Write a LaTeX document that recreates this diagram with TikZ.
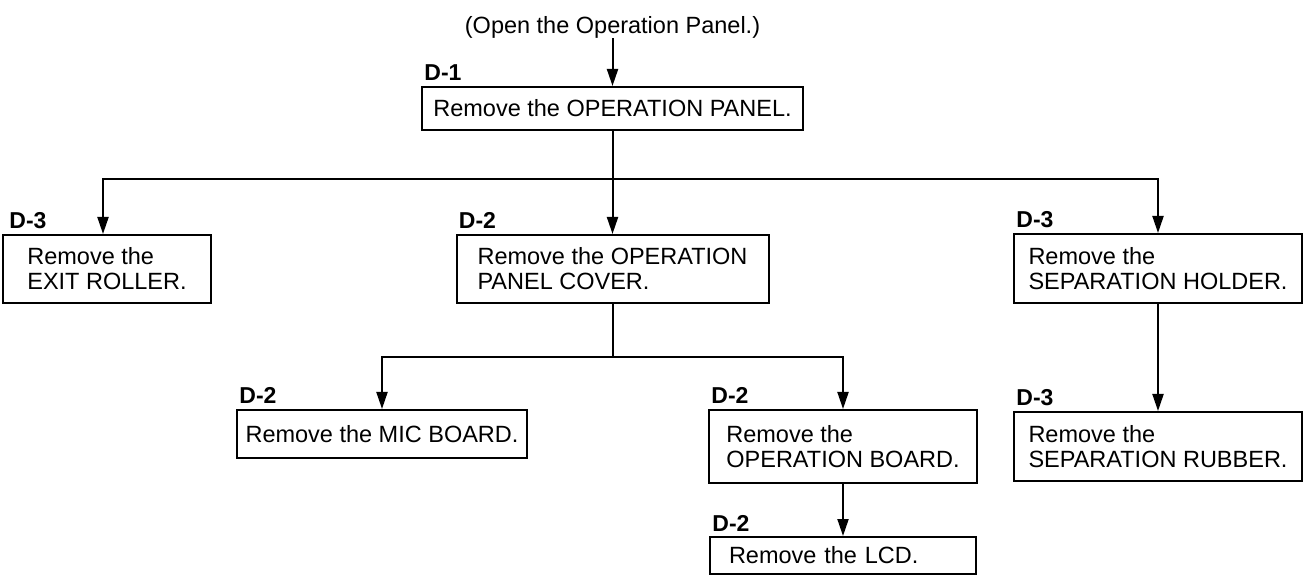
\documentclass[tikz,border=0pt]{standalone}
\usepackage{fontspec}
\setmainfont{Liberation Sans}
\usetikzlibrary{arrows.meta}

\begin{document}
\begin{tikzpicture}[x=0.5pt,y=-0.5pt,
  txt/.style={inner sep=0pt,font=\fontsize{11.75}{12.5}\selectfont},
  stepbox/.style={draw,line width=1pt,align=left,inner sep=0pt,font=\fontsize{11.75}{12.5}\selectfont},
  steptag/.style={anchor=base west,inner sep=0pt,font=\fontsize{11.5}{13}\selectfont\bfseries},
  link/.style={line width=1pt},
  arr/.style={-{Triangle[length=8.5pt,width=5.5pt]},line width=1pt}]
  \useasboundingbox (0,0) rectangle (1304,576);

  % ===== boxes =====
  \node[txt] (start) at (612.5,27) {(Open the Operation Panel.)};
  \node[stepbox,minimum width=190.5pt,minimum height=21.5pt] (p1) at (612.5,108.5) {Remove the OPERATION PANEL.};
  \node[stepbox,minimum width=104pt,minimum height=34pt] (exit) at (107,269) {Remove the\\EXIT ROLLER.};
  \node[stepbox,minimum width=156pt,minimum height=34pt] (cover) at (612.5,269) {Remove the OPERATION\\PANEL COVER.};
  \node[stepbox,minimum width=144pt,minimum height=34.5pt] (holder) at (1158,268.5) {Remove the\\SEPARATION HOLDER.};
  \node[stepbox,minimum width=145pt,minimum height=24pt] (mic) at (382,434) {Remove the MIC BOARD.};
  \node[stepbox,minimum width=134pt,minimum height=36.5pt] (board) at (843,446.5) {Remove the\\OPERATION BOARD.};
  \node[stepbox,text width=114pt,inner xsep=9.5pt,minimum height=18.5pt] (lcd) at (843,555.5) {Remove the LCD.};
  \node[stepbox,minimum width=144pt,minimum height=34.5pt] (rubber) at (1158,446.5) {Remove the\\SEPARATION RUBBER.};

  % ===== section tags =====
  \node[steptag] (tp1) at ([xshift=1.5pt,yshift=2.5pt]p1.north west) {D-1};
  \node[steptag] (texit) at ([xshift=3.5pt,yshift=2.5pt]exit.north west) {D-3};
  \node[steptag] (tcover) at ([xshift=1.5pt,yshift=2.5pt]cover.north west) {D-2};
  \node[steptag] (tholder) at ([xshift=1.5pt,yshift=2.5pt]holder.north west) {D-3};
  \node[steptag] (tmic) at ([xshift=1.5pt,yshift=2.5pt]mic.north west) {D-2};
  \node[steptag] (tboard) at ([xshift=1.5pt,yshift=2.5pt]board.north west) {D-2};
  \node[steptag] (tlcd) at ([xshift=1.5pt,yshift=2.5pt]lcd.north west) {D-2};
  \node[steptag] (trubber) at ([xshift=1.5pt,yshift=2.5pt]rubber.north west) {D-3};

  % ===== connectors =====
  \coordinate (split1) at (612.5,179);
  \coordinate (split2) at (612.5,357);
  \draw[arr] (start.south) -- (p1.north);
  \draw[link] (p1.south) -- (split1);
  \draw[arr] (split1) -| ([xshift=-2pt]exit.north);
  \draw[arr] (split1) -- (cover.north);
  \draw[arr] (split1) -| (holder.north);
  \draw[link] (cover.south) -- (split2);
  \draw[arr] (split2) -| (mic.north);
  \draw[arr] (split2) -| (board.north);
  \draw[arr] (board.south) -- (lcd.north);
  \draw[arr] (holder.south) -- (rubber.north);
\end{tikzpicture}
\end{document}
